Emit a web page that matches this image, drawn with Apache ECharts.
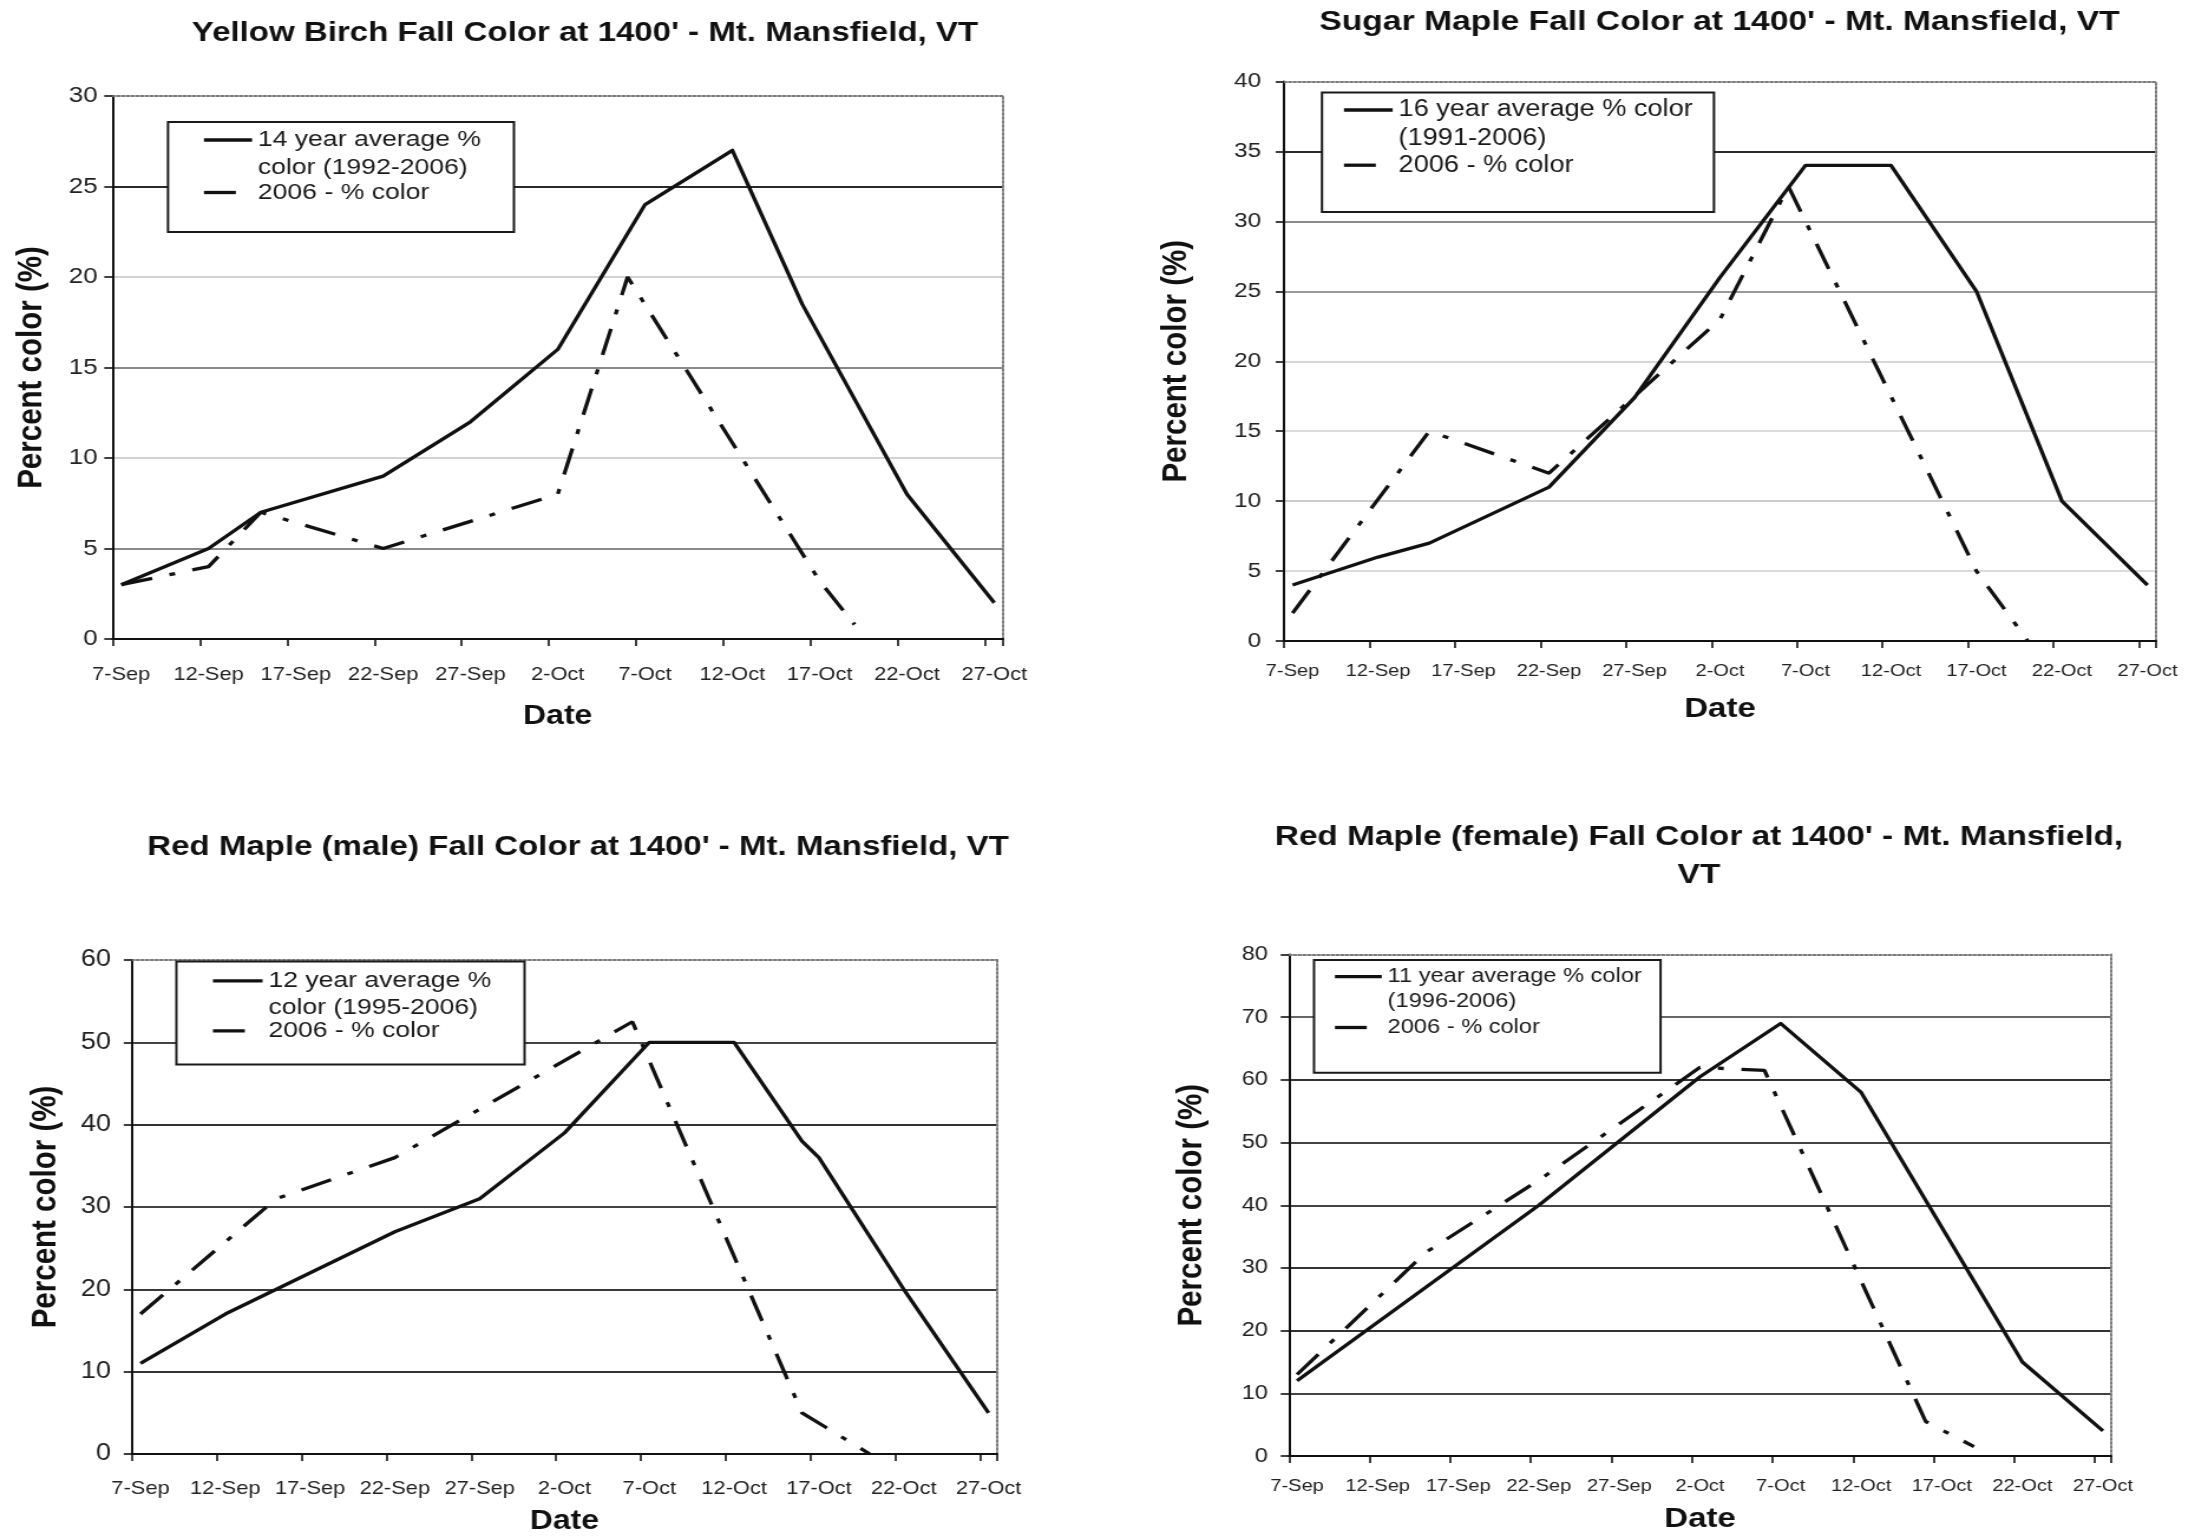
<!DOCTYPE html>
<html>
<head>
<meta charset="utf-8">
<title>Fall Color at 1400' - Mt. Mansfield, VT</title>
<script src="https://cdn.jsdelivr.net/npm/echarts@6/dist/echarts.min.js"></script>
<style>
  html, body { margin: 0; padding: 0; background: #fff; overflow: hidden; }
  #page { width: 2195px; height: 1536px; overflow: hidden; background: #fff; }
  /* the figure is drawn on a narrower canvas and widened, like the scanned report page */
  #chart { width: 1860px; height: 1536px; transform-origin: 0 0; transform: scaleX(1.1801075); }
</style>
</head>
<body>
<div id="page"><div id="chart"></div></div>
<script>
// ---- axis days (one category per day, 7-Sep .. 27-Oct) ----
const days = [
  '7-Sep','8-Sep','9-Sep','10-Sep','11-Sep','12-Sep','13-Sep','14-Sep','15-Sep','16-Sep',
  '17-Sep','18-Sep','19-Sep','20-Sep','21-Sep','22-Sep','23-Sep','24-Sep','25-Sep','26-Sep',
  '27-Sep','28-Sep','29-Sep','30-Sep','1-Oct','2-Oct','3-Oct','4-Oct','5-Oct','6-Oct',
  '7-Oct','8-Oct','9-Oct','10-Oct','11-Oct','12-Oct','13-Oct','14-Oct','15-Oct','16-Oct',
  '17-Oct','18-Oct','19-Oct','20-Oct','21-Oct','22-Oct','23-Oct','24-Oct','25-Oct','26-Oct',
  '27-Oct'
];

// ---- Yellow Birch ----
const birchAvg = [['7-Sep',3],['12-Sep',5],['15-Sep',7],['22-Sep',9],['27-Sep',12],['2-Oct',16],
  ['7-Oct',24],['12-Oct',27],['16-Oct',18.5],['22-Oct',8],['27-Oct',2]];
const birch2006 = [['7-Sep',3],['12-Sep',4],['15-Sep',7],['22-Sep',5],['2-Oct',8],['6-Oct',20],
  ['17-Oct',3.2],['19-Oct',0.8]];

// ---- Sugar Maple ----
const sugarAvg = [['7-Sep',4],['12-Sep',6],['15-Sep',7],['22-Sep',11],['27-Sep',17.4],['2-Oct',26],
  ['7-Oct',34],['12-Oct',34],['17-Oct',25],['22-Oct',10],['27-Oct',4]];
const sugar2006 = [['7-Sep',2],['15-Sep',15],['22-Sep',12],['27-Sep',17.5],['2-Oct',23],['6-Oct',32.5],
  ['17-Oct',5],['20-Oct',0]];

// ---- Red Maple (male) ----
const redMaleAvg = [['7-Sep',11],['12-Sep',17],['22-Sep',27],['27-Sep',31],['2-Oct',39],['7-Oct',50],
  ['12-Oct',50],['16-Oct',38],['17-Oct',36],['22-Oct',20],['27-Oct',5]];
const redMale2006 = [['7-Sep',17],['15-Sep',31],['22-Sep',36],['6-Oct',52.5],['16-Oct',5],['20-Oct',0]];

// ---- Red Maple (female) ----
const redFemAvg = [['7-Sep',12],['22-Sep',40],['2-Oct',60.5],['7-Oct',69],['12-Oct',58],['22-Oct',15],['27-Oct',4]];
const redFem2006 = [['7-Sep',13],['15-Sep',32.5],['22-Sep',44],['2-Oct',62],['6-Oct',61.5],['16-Oct',5.5],['19-Oct',1.5]];

// ---- series names ----
const yearName = '2006 - % color';
const birchAvgName = '14 year average %\ncolor (1992-2006)';
const sugarAvgName = '16 year average % color\n(1991-2006)';
const redMaleAvgName = '12 year average %\ncolor (1995-2006)';
const redFemAvgName = '11 year average % color\n(1996-2006)';

// ---- drawing setup ----
const STRETCH = 2195 / 1860;          // page px -> canvas px (horizontal only)
const px = v => v / STRETCH;
const FONT = '"Liberation Sans", Arial, Helvetica, sans-serif';
const INK = '#111';
const DASH_DOT = [27, 15, 5, 15];
const FRAME = { color: '#7a7a7a', width: 2, type: [2, 2] };
const Y_NAME_SIZE = 29.5;

const panels = [
  {
    title: "Yellow Birch Fall Color at 1400' - Mt. Mansfield, VT",
    titleX: 585, titleTop: 16, titleSize: 28, titleLH: 34,
    plot: { l: 112.5, r: 1003, t: 96, b: 639 },
    yMax: 30, yStep: 5, yFont: 22, yGap: 15,
    xFont: 18.5, xMargin: 25.5,
    yNameGap: 52, dateSize: 27, dateGap: 62.5,
    splitColors: ['#222', '#8a8a8a', '#d2d2d2', '#8a8a8a', '#d2d2d2', '#2a2a2a'],
    legend: { box: [168, 122, 511, 227], sampleX: 201, textX: 255, font: 22.5, lh: 28, gap: -6, padTop: 4, padBottom: 23 },
    avgName: birchAvgName, avg: birchAvg, cur: birch2006
  },
  {
    title: "Sugar Maple Fall Color at 1400' - Mt. Mansfield, VT",
    titleX: 1719.5, titleTop: 5.5, titleSize: 28.5, titleLH: 34,
    plot: { l: 1284, r: 2156, t: 81.5, b: 641 },
    yMax: 40, yStep: 5, yFont: 20.5, yGap: 23,
    xFont: 17, xMargin: 20.5,
    yNameGap: 74, dateSize: 28, dateGap: 52,
    splitColors: ['#222', '#dcdcdc', '#cccccc', '#dcdcdc', '#d6d6d6', '#9a9a9a', '#8a8a8a', '#2a2a2a'],
    legend: { box: [1322, 92.5, 1711, 207], sampleX: 1341, textX: 1395.6, font: 23, lh: 29, gap: -5.3, padTop: 3, padBottom: 29.8 },
    avgName: sugarAvgName, avg: sugarAvg, cur: sugar2006
  },
  {
    title: "Red Maple (male) Fall Color at 1400' - Mt. Mansfield, VT",
    titleX: 578, titleTop: 830, titleSize: 28, titleLH: 34,
    plot: { l: 132, r: 997, t: 960, b: 1454 },
    yMax: 60, yStep: 10, yFont: 23, yGap: 21,
    xFont: 18.5, xMargin: 24.4,
    yNameGap: 56, dateSize: 27, dateGap: 52.2,
    splitColors: ['#222', '#333', '#3a3a3a', '#444', '#333', '#444'],
    legend: { box: [176.4, 961.4, 521.6, 1059.5], sampleX: 210, textX: 265.5, font: 22.5, lh: 27, gap: -6.5, padTop: 6, padBottom: 17.5 },
    avgName: redMaleAvgName, avg: redMaleAvg, cur: redMale2006
  },
  {
    title: "Red Maple (female) Fall Color at 1400' - Mt. Mansfield,\nVT",
    titleX: 1699, titleTop: 818.6, titleSize: 28.3, titleLH: 38,
    plot: { l: 1289, r: 2111, t: 954.5, b: 1456 },
    yMax: 80, yStep: 10, yFont: 20, yGap: 21,
    xFont: 17, xMargin: 20.5,
    yNameGap: 65.5, dateSize: 28, dateGap: 47,
    splitColors: ['#222', '#444', '#333', '#333', '#444', '#444', '#333', '#666'],
    legend: { box: [1314, 960, 1657.6, 1067.7], sampleX: 1332, textX: 1384.7, font: 20, lh: 25, gap: -1.7, padTop: 4.2, padBottom: 30.2 },
    avgName: redFemAvgName, avg: redFemAvg, cur: redFem2006
  }
];

// text width on the canvas, used to size the legend boxes
const measureCtx = document.createElement('canvas').getContext('2d');
function textWidth(str, size) {
  measureCtx.font = size + 'px ' + FONT;
  return Math.max.apply(null, str.split('\n').map(s => measureCtx.measureText(s).width));
}

const option = {
  animation: false,
  backgroundColor: '#fff',
  title: [], grid: [], xAxis: [], yAxis: [], legend: [], series: []
};

panels.forEach((p, i) => {
  const g = p.plot;

  option.title.push({
    text: p.title,
    left: px(p.titleX), top: p.titleTop, textAlign: 'center', padding: 0,
    textStyle: { fontFamily: FONT, fontWeight: 'bold', fontSize: p.titleSize, lineHeight: p.titleLH, color: INK }
  });

  option.grid.push({
    left: px(g.l), top: g.t, width: px(g.r - g.l), height: g.b - g.t,
    containLabel: false, outerBoundsMode: 'none', show: false
  });

  // bottom date axis
  option.xAxis.push({
    type: 'category', gridIndex: i, data: days, boundaryGap: true,
    axisLine: { show: true, onZero: false, lineStyle: { color: INK, width: 2 } },
    axisTick: { show: true, interval: 4, length: 7, lineStyle: { color: INK, width: 1.6 } },
    axisLabel: { interval: 4, fontFamily: FONT, fontSize: p.xFont, lineHeight: p.xFont + 2, color: '#222', margin: p.xMargin },
    splitLine: { show: false },
    name: 'Date', nameLocation: 'middle', nameGap: p.dateGap, nameMoveOverlap: false,
    nameTextStyle: { fontFamily: FONT, fontWeight: 'bold', fontSize: p.dateSize, lineHeight: p.dateSize + 4, color: INK }
  });
  // dotted top edge of the plot frame
  option.xAxis.push({
    type: 'category', gridIndex: i, data: days, position: 'top', boundaryGap: true,
    axisLine: { show: true, onZero: false, lineStyle: FRAME },
    axisTick: { show: false }, axisLabel: { show: false }, splitLine: { show: false }
  });

  // percent axis
  option.yAxis.push({
    type: 'value', gridIndex: i, min: 0, max: p.yMax, interval: p.yStep,
    axisLine: { show: true, onZero: false, lineStyle: { color: INK, width: 2 } },
    axisTick: { show: true, length: 7, lineStyle: { color: INK, width: 1.6 } },
    axisLabel: { fontFamily: FONT, fontSize: p.yFont, color: '#222', margin: px(p.yGap) },
    splitLine: { show: true, showMaxLine: false, lineStyle: { color: p.splitColors, width: 2 } },
    name: 'Percent color (%)', nameLocation: 'middle', nameRotate: 90, nameGap: p.yNameGap, nameMoveOverlap: false,
    nameTextStyle: { fontFamily: FONT, fontWeight: 'bold', fontSize: Y_NAME_SIZE, lineHeight: Y_NAME_SIZE + 4, color: INK }
  });
  // dotted right edge of the plot frame
  option.yAxis.push({
    type: 'value', gridIndex: i, min: 0, max: p.yMax, interval: p.yStep, position: 'right',
    axisLine: { show: true, onZero: false, lineStyle: FRAME },
    axisTick: { show: false }, axisLabel: { show: false }, splitLine: { show: false }
  });

  option.series.push({
    type: 'line', name: p.avgName, xAxisIndex: 2 * i, yAxisIndex: 2 * i,
    data: p.avg, symbol: 'none', silent: true, z: 4,
    lineStyle: { color: INK, width: 3.3, type: 'solid', join: 'round' }
  });
  option.series.push({
    type: 'line', name: yearName, xAxisIndex: 2 * i, yAxisIndex: 2 * i,
    data: p.cur, symbol: 'none', silent: true, z: 3,
    lineStyle: { color: INK, width: 3.3, type: DASH_DOT, cap: 'butt' }
  });

  // legend box: solid sample on the first text line, dash-dot sample beside the 2006 entry
  const L = p.legend;
  const itemWidth = px(L.textX - L.sampleX) - 5;
  const padLeft = px(L.sampleX - L.box[0]);
  const maxText = Math.max(textWidth(p.avgName, L.font), textWidth(yearName, L.font));
  const padRight = px(L.box[2] - L.textX) - maxText;
  option.legend.push({
    orient: 'vertical', align: 'left',
    left: px(L.box[0]), top: L.box[1],
    padding: [L.padTop, padRight, L.padBottom, padLeft],
    itemGap: L.gap, itemWidth: itemWidth, itemHeight: L.lh,
    symbolKeepAspect: false, selectedMode: false,
    backgroundColor: '#fff', borderColor: '#1a1a1a', borderWidth: 2,
    textStyle: { fontFamily: FONT, fontSize: L.font, lineHeight: L.lh, color: '#1a1a1a' },
    data: [
      { name: p.avgName, icon: 'path://M0,0L40,0M40,27',
        itemStyle: { color: 'none', borderColor: INK, borderWidth: 3.3, borderType: 'solid', opacity: 1 } },
      { name: yearName, icon: 'path://M0,0L40,0M40,-10M40,10',
        itemStyle: { color: 'none', borderColor: INK, borderWidth: 3.3, borderType: DASH_DOT, borderCap: 'butt', opacity: 1 } }
    ]
  });
});

const chart = echarts.init(document.getElementById('chart'), null, { renderer: 'canvas' });
chart.setOption(option);
</script>
</body>
</html>
